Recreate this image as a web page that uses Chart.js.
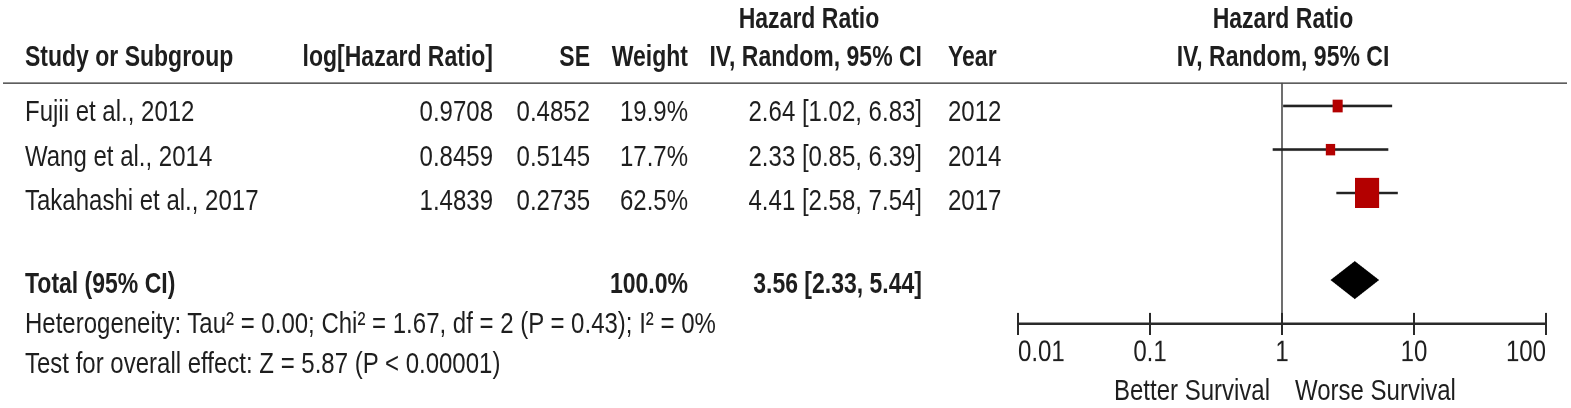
<!DOCTYPE html>
<html>
<head>
<meta charset="utf-8">
<script src="https://cdn.jsdelivr.net/npm/chart.js@4"></script>
<style>
  html, body { margin: 0; padding: 0; background: #fff; overflow: hidden; }
  #page {
    position: absolute; left: 0; top: 0;
    width: 1571px; height: 326.4px;
    transform: scaleY(1.25); transform-origin: 0 0;
    font-family: "Liberation Sans", Arial, sans-serif; font-size: 24px; color: #1e1e1e;
  }
  .t { position: absolute; white-space: pre; line-height: 24px; }
  .b { font-weight: bold; font-size: 23px; }
  #rule { position: absolute; left: 3px; top: 65.6px; width: 1564px; height: 1.8px; background: #2a2a2a; }
  #forest { position: absolute; left: 1000px; top: 0; }
</style>
</head>
<body>
<div id="page">
  <div id="rule"></div>
  <canvas id="forest" width="571" height="326"></canvas>
</div>
<script>
//datos del forest plot
const studies = ['Fujii et al., 2012', 'Wang et al., 2014', 'Takahashi et al., 2017'];
const logHR = [0.9708, 0.8459, 1.4839];
const se = [0.4852, 0.5145, 0.2735];
const weight = [19.9, 17.7, 62.5];
const hr = [2.64, 2.33, 4.41];
const ciLow = [1.02, 0.85, 2.58];
const ciHigh = [6.83, 6.39, 7.54];
const years = [2012, 2014, 2017];
const totalWeight = 100.0;
const totalHR = 3.56;
const totalLow = 2.33;
const totalHigh = 5.44;
const tickVals = [0.01, 0.1, 1, 10, 100];
const tickLabels = ['0.01', '0.1', '1', '10', '100'];

const heterogeneity = 'Heterogeneity: Tau\u00b2 = 0.00; Chi\u00b2 = 1.67, df = 2 (P = 0.43); I\u00b2 = 0%';
const overallTest = 'Test for overall effect: Z = 5.87 (P < 0.00001)';

//filas (indice en el eje y)
const rowIdx = [0, 1, 2];
const totalRow = 4;

//texto de la tabla
const page = document.getElementById('page');
const W = 1571;
function put(text, x, base, align, bold) {
  const d = document.createElement('div');
  d.className = 't' + (bold ? ' b' : '');
  d.textContent = text;
  d.style.top = (base - (bold ? 19.5 : 20.2)) + 'px';
  if (align === 'right') d.style.right = (W - x) + 'px';
  else if (align === 'center') { d.style.left = (x - 200) + 'px'; d.style.width = '400px'; d.style.textAlign = 'center'; }
  else d.style.left = x + 'px';
  page.appendChild(d);
}

put('Hazard Ratio', 809, 21.6, 'center', true);
put('Hazard Ratio', 1283, 21.6, 'center', true);
put('Study or Subgroup', 25, 52, 'left', true);
put('log[Hazard Ratio]', 493, 52, 'right', true);
put('SE', 590, 52, 'right', true);
put('Weight', 688, 52, 'right', true);
put('IV, Random, 95% CI', 922, 52, 'right', true);
put('Year', 948, 52, 'left', true);
put('IV, Random, 95% CI', 1283, 52, 'center', true);

const rowBase = [96.8, 132.8, 168];
studies.forEach((s, i) => {
  put(s, 25, rowBase[i], 'left');
  put(logHR[i].toFixed(4), 493, rowBase[i], 'right');
  put(se[i].toFixed(4), 590, rowBase[i], 'right');
  put(weight[i].toFixed(1) + '%', 688, rowBase[i], 'right');
  put(hr[i].toFixed(2) + ' [' + ciLow[i].toFixed(2) + ', ' + ciHigh[i].toFixed(2) + ']', 922, rowBase[i], 'right');
  put(String(years[i]), 948, rowBase[i], 'left');
});

put('Total (95% CI)', 25, 233.6, 'left', true);
put(totalWeight.toFixed(1) + '%', 688, 233.6, 'right', true);
put(totalHR.toFixed(2) + ' [' + totalLow.toFixed(2) + ', ' + totalHigh.toFixed(2) + ']', 922, 233.6, 'right', true);
put(heterogeneity, 25, 266.4, 'left');
put(overallTest, 25, 298.4, 'left');
put('Better Survival', 1270, 320, 'right');
put('Worse Survival', 1295, 320, 'left');

//tamaño del cuadrado segun el peso
function sideOf(w) { return 3.5 + 0.33 * w; }

//plugin: linea en 1, marcas del eje y rombo del total
const forestExtras = {
  id: 'forestExtras',
  beforeDatasetsDraw(chart) {
    const {ctx, chartArea, scales: {x}} = chart;
    const px = x.getPixelForValue(1);
    ctx.save();
    ctx.strokeStyle = '#4a4a4a';
    ctx.lineWidth = 1.6;
    ctx.beginPath();
    ctx.moveTo(px, chartArea.top);
    ctx.lineTo(px, chartArea.bottom);
    ctx.stroke();
    ctx.restore();
  },
  afterDatasetsDraw(chart) {
    const {ctx, scales: {x, y}} = chart;
    const cy = y.getPixelForValue(totalRow);
    const h = 15.2;
    ctx.save();
    ctx.fillStyle = '#000';
    ctx.beginPath();
    ctx.moveTo(x.getPixelForValue(totalLow), cy);
    ctx.lineTo(x.getPixelForValue(totalHR), cy - h);
    ctx.lineTo(x.getPixelForValue(totalHigh), cy);
    ctx.lineTo(x.getPixelForValue(totalHR), cy + h);
    ctx.closePath();
    ctx.fill();
    ctx.restore();
  },
  afterDraw(chart) {
    const {ctx, scales: {x}} = chart;
    const ay = x.top;
    ctx.save();
    ctx.strokeStyle = '#2a2a2a';
    ctx.lineWidth = 2;
    x.ticks.forEach(t => {
      const px = x.getPixelForValue(t.value);
      ctx.beginPath();
      ctx.moveTo(px, ay - 8.8);
      ctx.lineTo(px, ay + 8.8);
      ctx.stroke();
    });
    ctx.restore();
  }
};

const ciSets = studies.map((s, i) => ({
  type: 'line',
  label: s,
  data: [{x: ciLow[i], y: rowIdx[i]}, {x: ciHigh[i], y: rowIdx[i]}],
  borderColor: '#222',
  borderWidth: 2,
  pointRadius: 0
}));

new Chart(document.getElementById('forest'), {
  type: 'scatter',
  data: {
    datasets: [{
      label: 'Hazard Ratio',
      data: hr.map((v, i) => ({x: v, y: rowIdx[i]})),
      pointStyle: 'rect',
      pointRadius: c => sideOf(weight[c.dataIndex]) / Math.SQRT2,
      pointHoverRadius: c => sideOf(weight[c.dataIndex]) / Math.SQRT2,
      backgroundColor: '#b30000',
      borderWidth: 0
    }].concat(ciSets)
  },
  options: {
    responsive: false,
    devicePixelRatio: 2,
    animation: false,
    layout: { padding: { top: 66.4, left: 18, right: 25, bottom: 0 } },
    plugins: { legend: { display: false }, tooltip: { enabled: false } },
    scales: {
      x: {
        type: 'logarithmic',
        min: 0.01,
        max: 100,
        afterBuildTicks: s => { s.ticks = tickVals.map(v => ({value: v})); },
        afterFit: s => { s.height = 66.8; },
        ticks: {
          align: 'inner',
          padding: 8.6,
          color: '#1e1e1e',
          font: { family: '"Liberation Sans", Arial, sans-serif', size: 24 },
          callback: (v, i) => tickLabels[i]
        },
        grid: { drawOnChartArea: false, drawTicks: false },
        border: { display: true, color: '#2a2a2a', width: 2 }
      },
      y: {
        type: 'linear',
        reverse: true,
        min: -0.529,
        max: 5.011,
        display: false
      }
    }
  },
  plugins: [forestExtras]
});
</script>
</body>
</html>
